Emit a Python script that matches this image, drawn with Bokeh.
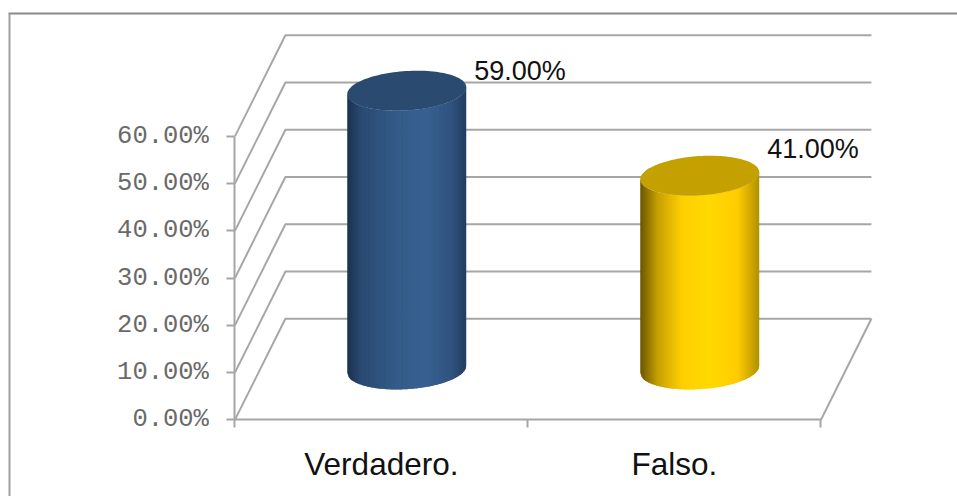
import numpy as np
from bokeh.core.properties import value
from bokeh.embed import file_html
from bokeh.models import FixedTicker, LinearAxis, Range1d
from bokeh.plotting import figure
from bokeh.resources import INLINE

categories = ["Verdadero.", "Falso."]
percent_values = [59.0, 41.0]
value_labels = ["59.00%", "41.00%"]
y_ticks = [0, 10, 20, 30, 40, 50, 60]
y_tick_labels = ["0.00%", "10.00%", "20.00%", "30.00%", "40.00%", "50.00%", "60.00%"]
blue_stops = [(0.0, "#1b3150"), (0.12, "#2a4a72"), (0.4, "#335a88"), (0.65, "#386192"), (0.88, "#2f527d"), (1.0, "#223d60")]
gold_stops = [(0.0, "#6b5600"), (0.15, "#c8a000"), (0.35, "#ffcf00"), (0.58, "#ffd900"), (0.82, "#ffcc00"), (1.0, "#b09000")]
cap_colors = ["#2a4a70", "#c4a000"]
label_y_offsets = [-20, -27]
bar_stops = [blue_stops, gold_stops]

W, H = 957, 496
ORIGIN = 0
X0, UX = 234.4, 293.0          # image px of category position 0, px per category
Y0, UY = 419.4, 4.725          # image px of value 0, px per percentage point
def ux(px): return (px - X0) / UX
def vy(px): return (Y0 - px) / UY

p = figure(width=W, height=H, output_backend="svg", toolbar_location=None,
           x_range=Range1d(ux(ORIGIN), ux(ORIGIN + W)), y_range=Range1d(vy(ORIGIN + H), vy(ORIGIN)),
           min_border=0, min_border_left=0, min_border_right=0, min_border_top=0, min_border_bottom=0,
           outline_line_color=None, background_fill_color="white", border_fill_color="white")
p.xaxis.visible = False
p.yaxis.visible = False
p.xgrid.visible = False
p.ygrid.visible = False

# chart frame
FRAME = "#8a8a8a"
p.line([ux(8), ux(ORIGIN + W)], [vy(13), vy(13)], line_color=FRAME, line_width=2)
p.line([ux(9), ux(9)], [vy(13), vy(ORIGIN + H)], line_color="#a0a0a0", line_width=2)

# 3D grid
DX, DY = 50.5 / UX, 101.2 / UY
GRID = "#a6a6a6"
n_cat = len(categories)
for t in y_ticks:
    p.line([0, DX, n_cat + DX], [t, t + DY, t + DY], line_color=GRID, line_width=2)
p.line([n_cat, n_cat + DX], [0, DY], line_color=GRID, line_width=2)

# cylinders
A, B, K = 59.5, 19.7, 3.5      # cylinder shape in px
BASE_V = 10.67
DEPTH_U = 0.0865

def interp_color(stops, f):
    pos = [s[0] for s in stops]
    rgb = [[int(s[1][i:i+2], 16) for s in stops] for i in (1, 3, 5)]
    return "#%02x%02x%02x" % tuple(int(round(np.interp(f, pos, c))) for c in rgb)

def lower_edge(f):
    q = 2 * f - 1
    return K * q - B * np.sqrt(np.clip(1 - q * q, 0, 1))

N = 90
for i, val in enumerate(percent_values):
    cu = i + 0.5 + DEPTH_U
    top = BASE_V + val
    xs, ys, cols = [], [], []
    for j in range(N):
        f0, f1 = j / N, min((j + 1.6) / N, 1.0)
        x0 = cu + (2 * f0 - 1) * A / UX
        x1 = cu + (2 * f1 - 1) * A / UX
        e0, e1 = lower_edge(f0) / UY, lower_edge(f1) / UY
        xs.append([x0, x1, x1, x0])
        ys.append([top + e0, top + e1, BASE_V + e1, BASE_V + e0])
        cols.append(interp_color(bar_stops[i], (j + 0.5) / N))
    p.patches(xs, ys, fill_color=cols, line_color=None)
    t = np.linspace(0, 2 * np.pi, 120)
    cx = cu + A * np.cos(t) / UX
    cy = top + (B * np.sin(t) + K * np.cos(t)) / UY
    p.patch(cx, cy, fill_color=cap_colors[i], line_color=None)
    p.text([cu], [top], text=[value_labels[i]], text_font=value("Liberation Sans"),
           text_font_size="27px", text_color="#111111", text_align="left",
           text_baseline="alphabetic", x_offset=[67.5], y_offset=[label_y_offsets[i]])

# axes
yax = LinearAxis(fixed_location=0, bounds=(0, 60), ticker=FixedTicker(ticks=y_ticks),
                 major_label_overrides={t: s for t, s in zip(y_ticks, y_tick_labels)})
yax.axis_line_color = GRID
yax.axis_line_width = 2
yax.major_tick_line_color = GRID
yax.major_tick_line_width = 2
yax.major_tick_in = 0
yax.major_tick_out = 8
yax.minor_tick_out = 0
yax.minor_tick_in = 0
yax.major_label_standoff = 18
yax.major_label_text_font = "Liberation Mono"
yax.major_label_text_font_size = "25.5px"
yax.major_label_text_color = "#6a6a6a"
p.add_layout(yax, "left")

xax = LinearAxis(fixed_location=0, bounds=(0, n_cat),
                 ticker=FixedTicker(ticks=[i + 0.5 for i in range(n_cat)], minor_ticks=list(range(n_cat + 1))),
                 major_label_overrides={i + 0.5: c for i, c in enumerate(categories)})
xax.axis_line_color = GRID
xax.axis_line_width = 2
xax.major_tick_line_color = None
xax.major_tick_in = 0
xax.major_tick_out = 0
xax.minor_tick_line_color = GRID
xax.minor_tick_line_width = 2
xax.minor_tick_in = 0
xax.minor_tick_out = 8
xax.major_label_standoff = 18
xax.major_label_text_font = "Liberation Sans"
xax.major_label_text_font_size = "31.5px"
xax.major_label_text_color = "#111111"
p.add_layout(xax, "below")

open("out.html", "w").write(file_html(p, INLINE))
